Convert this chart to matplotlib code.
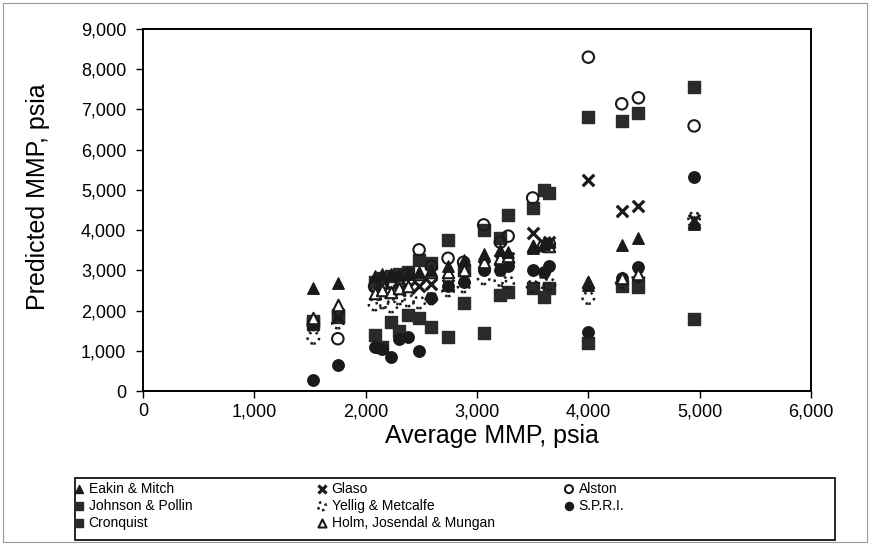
import matplotlib.pyplot as plt
from matplotlib.patches import Rectangle

plt.rcParams['font.family'] = ['Liberation Sans', 'DejaVu Sans']

# average MMP of each sample (psia)
avg_mmp = [1530, 1750, 2080, 2150, 2230, 2300, 2380, 2480, 2590, 2740, 2880,
           3060, 3210, 3280, 3500, 3600, 3650, 4000, 4300, 4450, 4950]

# predicted MMP by correlation (psia)
eakin = [2560, 2690, 2850, 2900, 2920, 2880, 2900, 2950, 3000, 3100, 3250,
         3400, 3500, 3450, 3560, 3650, 3700, 2640, 3630, 3800, 4150]
glaso = [1650, 1850, 2400, 2450, 2500, 2500, 2550, 2600, 2650, 2640, 2800,
         3100, 3250, 3300, 3930, 3650, 3700, 5250, 4480, 4600, 4250]
alston = [1650, 1300, 2600, 2650, 2700, 2800, 2900, 3510, 3100, 3300, 3200,
          4130, 3700, 3850, 4800, 3600, 3650, 8300, 7140, 7290, 6590]
johnson = [1690, 1840, 1390, 1100, 1720, 1500, 1900, 1820, 1600, 1340, 2200,
           1450, 2390, 2450, 2560, 2340, 2560, 1200, 2600, 2590, 1790]
yellig = [1320, 1700, 2150, 2200, 2100, 2300, 2250, 2200, 2300, 2500, 2600,
          2800, 2760, 2700, 2600, 2700, 2650, 2310, 2700, 2840, 4300]
spri = [270, 650, 1100, 1050, 850, 1300, 1350, 1000, 2300, 2600, 2700,
        3000, 3010, 3100, 3010, 2950, 3100, 1470, 2800, 3080, 5320]
cronquist = [1750, 1900, 2700, 2800, 2850, 2900, 2950, 3260, 3180, 3750, 3000,
             4000, 3800, 4380, 4550, 5000, 4920, 6820, 6720, 6920, 7560]
holm = [1820, 2140, 2440, 2500, 2450, 2550, 2600, 2900, 2950, 2960, 3000,
        3210, 3300, 3350, 3600, 3650, 3600, 2700, 2800, 2900, 4200]

ink = '#1a1a1a'
fig = plt.figure(figsize=(8.71, 5.45), dpi=100)
ax = fig.add_axes([143 / 871, 1 - 391 / 545, 668 / 871, 362 / 545])

s = 68
h_cron = ax.scatter(avg_mmp, cronquist, marker='s', s=s, color='#2a2a2a', label='Cronquist')
h_john = ax.scatter(avg_mmp, johnson, marker='s', s=s, color='#2a2a2a', label='Johnson & Pollin')
h_spri = ax.scatter(avg_mmp, spri, marker='o', s=s, color=ink, label='S.P.R.I.')
h_yell = ax.scatter(avg_mmp, yellig, marker='o', s=s, facecolors='none', edgecolors=ink,
                    linewidths=1.8, linestyles=':', label='Yellig & Metcalfe')
h_glas = ax.scatter(avg_mmp, glaso, marker='x', s=s, color=ink, linewidths=2.3, label='Glaso')
h_alst = ax.scatter(avg_mmp, alston, marker='o', s=s, facecolors='none', edgecolors=ink,
                    linewidths=1.5, label='Alston')
h_holm = ax.scatter(avg_mmp, holm, marker='^', s=s, facecolors='white', edgecolors=ink,
                    linewidths=1.5, label='Holm, Josendal & Mungan')
h_eak = ax.scatter(avg_mmp, eakin, marker='^', s=s, color=ink, label='Eakin & Mitch')

ax.set_xlim(0, 6000)
ax.set_ylim(0, 9000)
ax.set_xticks(range(0, 6001, 1000))
ax.set_yticks(range(0, 9001, 1000))
ax.set_xticklabels([f'{v:,}' for v in range(0, 6001, 1000)])
ax.set_yticklabels([f'{v:,}' for v in range(0, 9001, 1000)])
ax.tick_params(labelsize=13, direction='out', length=5, width=1)
ax.tick_params(axis='y', pad=7)
ax.tick_params(axis='x', pad=4)
for sp in ax.spines.values():
    sp.set_linewidth(1.4)
    sp.set_color('black')
ax.set_xlabel('Average MMP, psia', fontsize=18)
ax.set_ylabel('Predicted MMP, psia', fontsize=18)
ax.xaxis.set_label_coords(0.522, -0.09)
ax.yaxis.set_label_coords(-0.139, 0.536)

# legend box below the chart, three columns
fig.patches.append(Rectangle((75 / 871, 5 / 545), 760 / 871, 62 / 545, transform=fig.transFigure,
                             fill=False, edgecolor='black', linewidth=1.2))
columns = [([h_eak, h_john, h_cron], 72),
           ([h_glas, h_yell, h_holm], 315),
           ([h_alst, h_spri], 562)]
for handles, x0 in columns:
    leg = fig.legend(handles=handles, loc='upper left', bbox_to_anchor=(x0 / 871, 1 - 479 / 545),
                     frameon=False, fontsize=10, handlelength=0.6, handletextpad=0.4,
                     labelspacing=0.22, markerscale=0.7, borderpad=0.2, borderaxespad=0)

# scan border
fig.patches.append(Rectangle((3 / 871, 3 / 545), 864 / 871, 539 / 545, transform=fig.transFigure,
                             fill=False, edgecolor='#999999', linewidth=0.8))

fig.savefig('out.png', dpi=100)
